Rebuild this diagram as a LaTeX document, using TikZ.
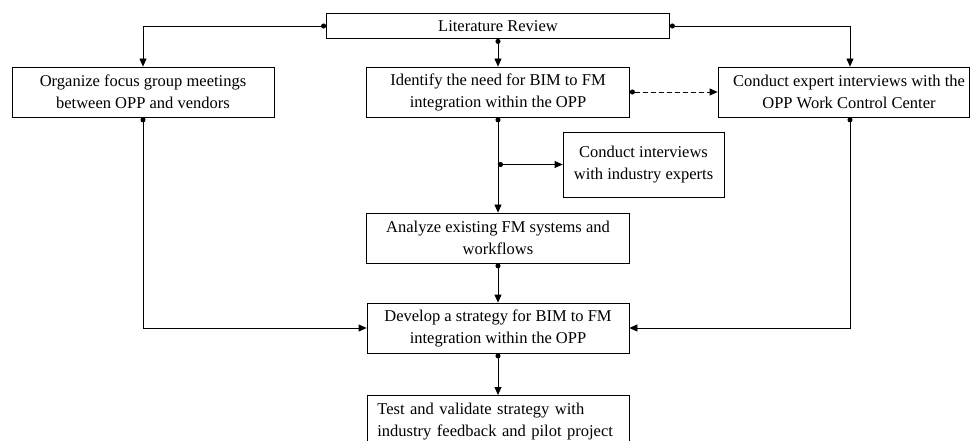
\documentclass[tikz,border=0pt]{standalone}
\usepackage{fontspec}
\setmainfont{Liberation Serif}
\usetikzlibrary{arrows.meta}

\tikzset{
  box/.style={draw, line width=0.8pt, inner sep=0pt, align=center,
    font=\fontsize{16.5}{22}\selectfont},
  flow/.style={line width=0.8pt, {Circle[length=5pt]}-{Triangle[length=8pt,width=7pt]}},
}

\begin{document}
\begin{tikzpicture}[x=1pt,y=-1pt]
\useasboundingbox[fill=white] (0,0) rectangle (970,441);

\begin{scope}
\node[box, minimum width=343, minimum height=25] (lit) at (498,26) {Literature Review};
\node[box, minimum width=262, minimum height=50] (org) at (143,92) {Organize focus group meetings\\between OPP and vendors};
\node[box, minimum width=263, minimum height=50] (need) at (498,92) {Identify the need for BIM to FM\\integration within the OPP};
\node[box, minimum width=251, minimum height=50] (expert) at (843.5,92) {\hspace{11pt}Conduct expert interviews with the\\\hspace{11pt}OPP Work Control Center};
\node[box, minimum width=161, minimum height=65] (ind) at (643.5,164.5) {Conduct interviews\\with industry experts};
\node[box, minimum width=263, minimum height=50] (ana) at (498,238) {Analyze existing FM systems and\\workflows};
\node[box, minimum width=262, minimum height=50] (dev) at (498,328) {Develop a strategy for BIM to FM\\integration within the OPP};
\node[box, minimum width=262, minimum height=52, anchor=north west, align=left, inner xsep=10pt, text width=242] (test) at (367,395) {Test and validate strategy with\\industry feedback and pilot project};
\coordinate (split) at (need.south |- ind.west);
\coordinate (exp-top) at ([xshift=6.5]expert.north);
\coordinate (exp-bot) at ([xshift=6.5]expert.south);

\draw[flow] (lit.west) -| (org.north);
\draw[flow] (lit.south) -- (need.north);
\draw[flow] (lit.east) -| (exp-top);
\draw[flow, dash pattern=on 5pt off 3pt] (need.east) -- (expert.west);
\draw[flow] (need.south) -- (ana.north);
\draw[flow] (split) -- (ind.west);
\draw[flow] (ana.south) -- (dev.north);
\draw[flow] (org.south) |- (dev.west);
\draw[flow] (exp-bot) |- (dev.east);
\draw[flow] (dev.south) -- (dev.south |- test.north);
\end{scope}
\end{tikzpicture}
\end{document}
